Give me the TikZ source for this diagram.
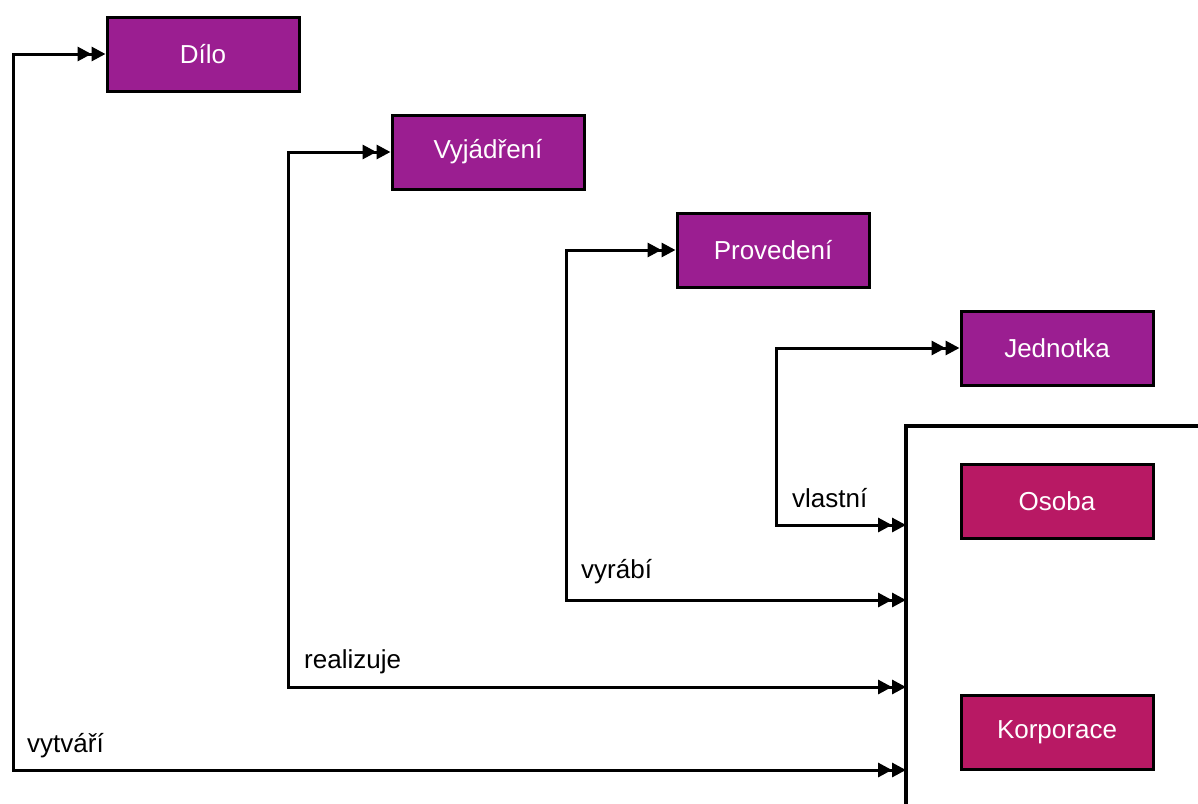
\documentclass[tikz,border=0pt]{standalone}
\usepackage{fontspec}
\setmainfont{Liberation Sans}
\usetikzlibrary{arrows.meta}
\definecolor{entity}{RGB}{155,30,145}
\definecolor{agent}{RGB}{184,25,100}
\tikzset{
  entbox/.style={draw=black, line width=3pt, fill=entity, text=white,
    minimum width=192pt, minimum height=74pt, inner sep=0pt,
    font=\fontsize{26}{30}\selectfont},
  agentbox/.style={entbox, fill=agent},
  tip/.style={Triangle[length=14pt,width=14pt]},
  rel/.style={line width=3pt, line join=miter,
    {Triangle[length=14pt,width=14pt]Triangle[length=14pt,width=14pt]}-{Triangle[length=14pt,width=14pt]Triangle[length=14pt,width=14pt]}},
  rellabel/.style={anchor=base west, inner sep=0pt, font=\fontsize{26}{30}\selectfont}
}
\begin{document}
\begin{tikzpicture}[x=1pt,y=-1pt]
\useasboundingbox (0,0) rectangle (1198,803);
\fill[white] (0,0) rectangle (1198,803);
\clip (0,0) rectangle (1198,803);

% Group 1 entities
\node[entbox] (dilo) at (203,54) {Dílo};
\node[entbox] (vyj) at (488,152) {Vyjádření};
\node[entbox] (prov) at (773,250) {Provedení};
\node[entbox] (jedn) at (1057,348) {Jednotka};

% Group 2: persons and corporate bodies
\node[draw, line width=3.5pt, outer sep=0pt, minimum width=420pt, minimum height=500pt,
      anchor=north west] (group) at (906,426) {};
\node[agentbox] (osoba) at (1057,501) {Osoba};
\node[agentbox] (korp) at (1057,732) {Korporace};

% Relationships
\coordinate (c1) at (13,770);
\coordinate (c2) at (288,687);
\coordinate (c3) at (566,600);
\coordinate (c4) at (776,525);

\draw[rel] (dilo.west) -| (c1) -- (c1 -| group.west);
\draw[rel] (vyj.west) -| (c2) -- (c2 -| group.west);
\draw[rel] (prov.west) -| (c3) -- (c3 -| group.west);
\draw[rel] (jedn.west) -| (c4) -- (c4 -| group.west);

\node[rellabel] (l1) at (27,752) {vytváří};
\node[rellabel] (l2) at (304,668) {realizuje};
\node[rellabel] (l3) at (581,578) {vyrábí};
\node[rellabel] (l4) at (792,507) {vlastní};
\end{tikzpicture}
\end{document}
